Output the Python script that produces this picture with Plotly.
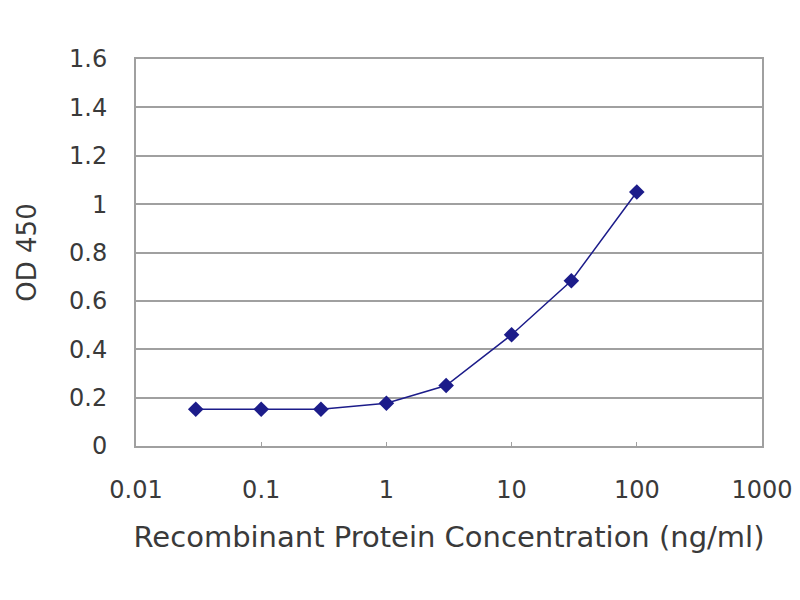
import plotly.graph_objects as go

# concentration (ng/ml) vs OD 450
conc = [0.03, 0.1, 0.3, 1, 3, 10, 30, 100]
od450 = [0.152, 0.152, 0.152, 0.177, 0.25, 0.46, 0.683, 1.05]

y_ticks = [0, 0.2, 0.4, 0.6, 0.8, 1, 1.2, 1.4, 1.6]
y_labels = ['0', '0.2', '0.4', '0.6', '0.8', '1', '1.2', '1.4', '1.6']
x_ticks = [0.01, 0.1, 1, 10, 100, 1000]
x_labels = ['0.01', '0.1', '1', '10', '100', '1000']

navy = '#1c1c8a'
grid = '#a0a0a0'
txt = '#3a3a3a'

fig = go.Figure(go.Scatter(
    x=conc,
    y=od450,
    mode='lines+markers',
    line={'color': navy, 'width': 1.5},
    marker={'symbol': 'diamond', 'size': 12, 'color': navy},
    showlegend=False,
))

fig.update_layout(
    width=800, height=600,
    margin={'l': 128, 'r': 46, 't': 51, 'b': 162},
    plot_bgcolor='white',
    paper_bgcolor='white',
    font={'family': 'DejaVu Sans, Liberation Sans, sans-serif', 'color': txt, 'size': 24},
    xaxis={
        'type': 'log',
        'range': [-2, 3],
        'tickmode': 'array',
        'tickvals': x_ticks,
        'ticktext': x_labels,
        'showgrid': False,
        'showline': True, 'linecolor': grid, 'linewidth': 2, 'mirror': True,
        'ticks': 'inside', 'ticklen': 4, 'tickcolor': grid,
        'title': {'text': 'Recombinant Protein Concentration (ng/ml)',
                  'font': {'size': 29}, 'standoff': 24},
        'ticklabelstandoff': 21,
    },
    yaxis={
        'range': [0, 1.6],
        'tickmode': 'array',
        'tickvals': y_ticks,
        'ticktext': y_labels,
        'showgrid': True, 'gridcolor': grid, 'gridwidth': 2,
        'zeroline': False,
        'showline': True, 'linecolor': grid, 'linewidth': 2, 'mirror': True,
        'ticks': 'inside', 'ticklen': 4, 'tickcolor': grid,
        'title': {'text': 'OD 450', 'font': {'size': 26}, 'standoff': 25},
        'ticklabelstandoff': 22,
    },
)

fig.write_html("out.html")
